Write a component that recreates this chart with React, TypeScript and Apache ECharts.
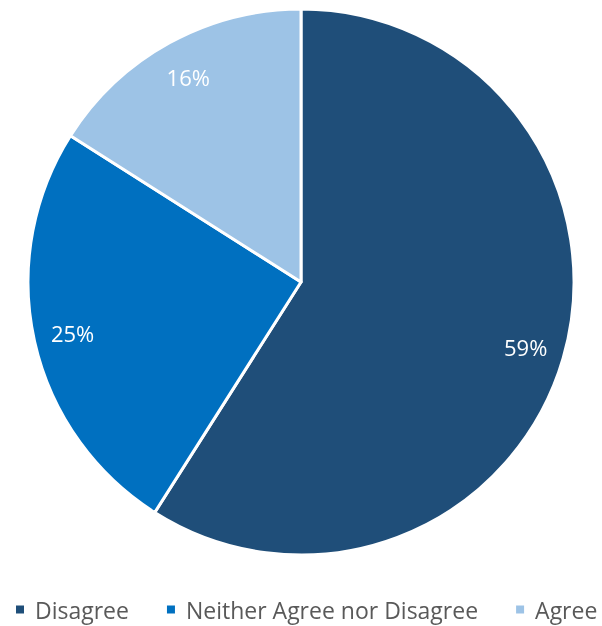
import React, { useEffect, useRef } from "react";
import * as echarts from "echarts";

const categories = ["Disagree", "Neither Agree nor Disagree", "Agree"];
const values = [59, 25, 16];
const colors = ["#1F4E79", "#0070C0", "#9DC3E6"];

const CX = 301;
const CY = 282;
const R = 273;
const LABEL_R = 234;

export default function App() {
  const ref = useRef<HTMLDivElement>(null);
  useEffect(() => {
    if (!ref.current) return;
    const chart = echarts.init(ref.current, null, { renderer: "svg" });
    chart.setOption({
      animation: false,
      color: colors,
      legend: {
        top: 598,
        left: 14,
        width: 588,
        padding: 0,
        icon: "rect",
        itemWidth: 10,
        itemHeight: 10,
        itemGap: 36,
        selectedMode: false,
        textStyle: {
          fontFamily: "Open Sans",
          fontSize: 23,
          color: "#595959",
          padding: [0, 0, 0, 5],
        },
        data: categories,
      },
      series: [
        {
          type: "pie",
          center: [CX, CY],
          radius: [0, R],
          startAngle: 90,
          clockwise: true,
          avoidLabelOverlap: false,
          itemStyle: { borderColor: "#ffffff", borderWidth: 3 },
          label: {
            show: true,
            position: "inside",
            formatter: "{d}%",
            color: "#ffffff",
            fontFamily: "Open Sans",
            fontSize: 22,
          },
          labelLine: { show: false },
          labelLayout: (p: any) => {
            const r = p.labelRect;
            const lx = r.x + r.width / 2;
            const ly = r.y + r.height / 2;
            const dx = lx - CX;
            const dy = ly - CY;
            const d = Math.sqrt(dx * dx + dy * dy) || 1;
            const k = LABEL_R / d - 1;
            return { dx: dx * k, dy: dy * k };
          },
          emphasis: { disabled: true },
          data: categories.map((c, i) => ({ name: c, value: values[i] })),
        },
      ],
    });
    return () => chart.dispose();
  }, []);
  return (
    <div
      ref={ref}
      style={{ position: "fixed", left: 0, top: 0, width: 602, height: 626 }}
    />
  );
}
